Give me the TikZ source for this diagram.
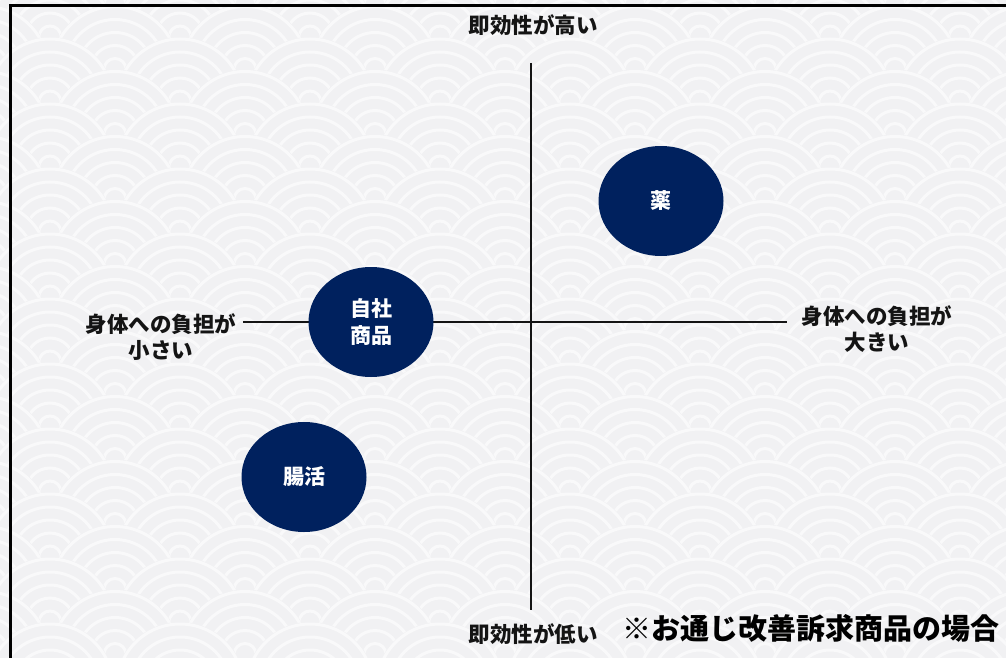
\documentclass[tikz,border=0pt]{standalone}
\usepackage{fontspec}
\setmainfont{Noto Sans CJK JP}
\usetikzlibrary{shapes.geometric}
\definecolor{navy}{RGB}{0,33,94}
\definecolor{wavebg}{RGB}{241,241,243}
\definecolor{waveline}{RGB}{249,249,250}
\definecolor{ink}{RGB}{20,20,20}
\begin{document}
\begin{tikzpicture}[x=1pt,y=-1pt,
    axis/.style={line width=2.5pt, ink},
    blob/.style={ellipse, fill=navy, minimum width=125pt, minimum height=110pt, inner sep=0pt,
      text=white, align=center, font=\fontsize{21}{27}\selectfont\bfseries},
    axlabel/.style={text=ink, align=center, font=\fontsize{21.5}{26.5}\selectfont\bfseries}]
    \useasboundingbox (0,0) rectangle (1006,658);

    % Wave pattern in the background
    \begin{scope}
        \clip (0,0) rectangle (1006,658);
        \fill[wavebg] (0,0) rectangle (1006,658);
        \foreach \n in {-2,...,20} {
            \pgfmathsetmacro\yy{37+32.5*\n}
            \pgfmathsetmacro\xoff{50+65*mod(\n+2,2)}
            \foreach \k in {-1,...,8} {
                \fill[wavebg] (\xoff+130*\k,\yy) circle (65);
                \foreach \r in {63,50,37,24,11}
                    \draw[waveline, line width=3pt] (\xoff+130*\k,\yy) circle (\r);
            }
        }
    \end{scope}

    % Frame
    \draw[line width=2.5pt, black] (10.5,658) |- (1006,5.5);

    % Axes
    \coordinate (ytop) at (531,63);
    \coordinate (ybot) at (531,610);
    \coordinate (xleft) at (243,322);
    \coordinate (xright) at (787,322);
    \draw[axis] (ytop) -- (ybot);
    \draw[axis] (xleft) -- (xright);

    % Axis labels
    \node[axlabel] (fastHigh) at (533,25) {即効性が高い};
    \node[axlabel] (fastLow) at (533,634) {即効性が低い};
    \node[axlabel] (loadSmall) at (161,337) {身体への負担が\\小さい};
    \node[axlabel] (loadLarge) at (877,329) {身体への負担が\\大きい};

    % Items
    \node[blob] (kusuri) at (661,201) {薬};
    \node[blob] (jisha) at (371,322) {自社\\商品};
    \node[blob] (chokatsu) at (304,477) {腸活};

    % Note
    \node[text=black, font=\fontsize{29}{32}\selectfont\bfseries] (note) at (811,628) {※お通じ改善訴求商品の場合};
\end{tikzpicture}
\end{document}
